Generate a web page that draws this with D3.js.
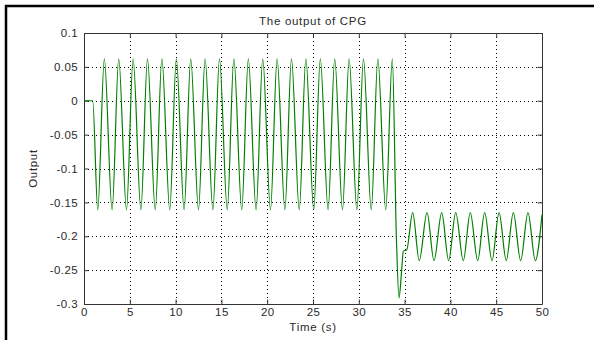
<!DOCTYPE html>
<html>
<head>
<meta charset="utf-8">
<script src="https://cdn.jsdelivr.net/npm/d3@7"></script>
<style>
    body { margin: 0; background: #ffffff; }
    svg text { font-family: 'Liberation Sans', Arial, sans-serif; fill: #2a2a2a; font-weight: normal; }
</style>
</head>
<body>
<div id="chart"></div>
<script>
// CPG output: [time (s), output]
const onsetPoints = [[0, 0], [0.95, 0]]
const gaitTroughs = [
    [1.50, -0.161], [3.07, -0.161], [4.64, -0.161], [6.21, -0.161], [7.78, -0.161],
    [9.36, -0.161], [10.93, -0.161], [12.50, -0.161], [14.07, -0.161], [15.64, -0.161],
    [17.22, -0.161], [18.79, -0.161], [20.36, -0.161], [21.93, -0.161], [23.50, -0.161],
    [25.08, -0.161], [26.65, -0.161], [28.22, -0.161], [29.79, -0.161], [31.36, -0.161],
    [32.94, -0.161],
]
const gaitPeaks = [
    [2.22, 0.062], [3.79, 0.062], [5.36, 0.062], [6.93, 0.062], [8.50, 0.062],
    [10.08, 0.062], [11.65, 0.062], [13.22, 0.062], [14.79, 0.062], [16.36, 0.062],
    [17.94, 0.062], [19.51, 0.062], [21.08, 0.062], [22.65, 0.062], [24.22, 0.062],
    [25.80, 0.062], [27.37, 0.062], [28.94, 0.062], [30.51, 0.062], [32.08, 0.062],
    [33.66, 0.062],
]
const transitionPoints = [
    [34.10, -0.20], [34.39, -0.291], [34.68, -0.25], [34.86, -0.222], [35.23, -0.220],
]
const newGaitPeaks = [
    [35.88, -0.165], [37.45, -0.165], [39.05, -0.165], [40.58, -0.165], [42.17, -0.165],
    [43.74, -0.165], [45.31, -0.165], [46.87, -0.165], [48.47, -0.165],
]
const newGaitTroughs = [
    [36.60, -0.236], [38.21, -0.236], [39.81, -0.236], [41.41, -0.236], [42.98, -0.236],
    [44.54, -0.236], [46.10, -0.236], [47.67, -0.236], [49.27, -0.236], [50, -0.168],
]

const xTicks = [0, 5, 10, 15, 20, 25, 30, 35, 40, 45, 50]
const yTicks = [-0.3, -0.25, -0.2, -0.15, -0.1, -0.05, 0, 0.05, 0.1]

const titleText = 'The output of CPG'
const xLabelText = 'Time (s)'
const yLabelText = 'Output'

class CpgPlot {
    constructor(elementSelector) {
        this.elementSelector = elementSelector
        this.width = 594
        this.height = 340

        this.MARGIN = {
            TOP: 33,
            RIGHT: 52,
            BOTTOM: 36,
            LEFT: 84,
        }
        this.TICK_LENGTH = 4.5

        this.points = [
            ...onsetPoints, ...gaitTroughs, ...gaitPeaks,
            ...transitionPoints, ...newGaitPeaks, ...newGaitTroughs,
        ].sort((a, b) => a[0] - b[0])
    }

    init() {
        this.initContainer()
        this.initScales()
        this.initGrid()
        this.initAxes()
        this.initLine()
        this.initLabels()
    }

    initContainer() {
        this.svg = d3.select(this.elementSelector)
            .append('svg')
            .attr('width', this.width)
            .attr('height', this.height)

        // figure frame: only top and left edges show in the capture
        this.svg.append('path')
            .attr('d', `M6,${this.height} V6 H${this.width}`)
            .attr('fill', 'none')
            .attr('stroke', '#000000')
            .attr('stroke-width', 2.5)
    }

    initScales() {
        this.x = d3.scaleLinear()
            .domain([0, 50])
            .range([this.MARGIN.LEFT, this.width - this.MARGIN.RIGHT])

        this.y = d3.scaleLinear()
            .domain([-0.3, 0.1])
            .range([this.height - this.MARGIN.BOTTOM, this.MARGIN.TOP])
    }

    initGrid() {
        const [x0, x1] = this.x.range()
        const [y0, y1] = this.y.range()
        const grid = this.svg.append('g')
            .attr('stroke', '#000000')
            .attr('stroke-width', 1)
            .attr('stroke-dasharray', '1,3')

        grid.selectAll('line.vgrid')
            .data(xTicks.slice(1, -1))
            .join('line')
            .attr('class', 'vgrid')
            .attr('x1', (d) => Math.round(this.x(d)) + 0.5)
            .attr('x2', (d) => Math.round(this.x(d)) + 0.5)
            .attr('y1', y1)
            .attr('y2', y0)

        grid.selectAll('line.hgrid')
            .data(yTicks.slice(1, -1))
            .join('line')
            .attr('class', 'hgrid')
            .attr('x1', x0)
            .attr('x2', x1)
            .attr('y1', (d) => Math.round(this.y(d)) + 0.5)
            .attr('y2', (d) => Math.round(this.y(d)) + 0.5)
    }

    initAxes() {
        const [x0, x1] = this.x.range()
        const [y0, y1] = this.y.range()
        const fmt = (d) => String(+d.toFixed(2))

        const bottom = this.svg.append('g')
            .attr('transform', `translate(0,${y0})`)
            .call(d3.axisBottom(this.x).tickValues(xTicks).tickFormat(fmt)
                .tickSizeInner(-this.TICK_LENGTH).tickSizeOuter(0).tickPadding(4))

        const left = this.svg.append('g')
            .attr('transform', `translate(${x0},0)`)
            .call(d3.axisLeft(this.y).tickValues(yTicks).tickFormat(fmt)
                .tickSizeInner(-this.TICK_LENGTH).tickSizeOuter(0).tickPadding(6))

        const top = this.svg.append('g')
            .attr('transform', `translate(0,${y1})`)
            .call(d3.axisTop(this.x).tickValues(xTicks).tickFormat('')
                .tickSizeInner(-this.TICK_LENGTH).tickSizeOuter(0))

        const right = this.svg.append('g')
            .attr('transform', `translate(${x1},0)`)
            .call(d3.axisRight(this.y).tickValues(yTicks).tickFormat('')
                .tickSizeInner(-this.TICK_LENGTH).tickSizeOuter(0))

        for (const axis of [bottom, left, top, right]) {
            axis.selectAll('path, line').attr('stroke', '#333333')
            axis.selectAll('text')
                .attr('fill', '#2a2a2a')
                .style('font-size', '11.5px')
                .style('letter-spacing', '0.4px')
            axis.attr('font-family', null).attr('font-size', null)
        }
    }

    initLine() {
        const line = d3.line()
            .x((d) => this.x(d[0]))
            .y((d) => this.y(d[1]))
            .curve(d3.curveMonotoneX)

        this.svg.append('path')
            .datum(this.points)
            .attr('d', line)
            .attr('fill', 'none')
            .attr('stroke', '#008000')
            .attr('stroke-width', 1.2)
            .attr('stroke-linejoin', 'round')
    }

    initLabels() {
        const [x0, x1] = this.x.range()
        const [y0, y1] = this.y.range()
        const cx = (x0 + x1) / 2

        const label = (text) => this.svg.append('text')
            .text(text)
            .attr('text-anchor', 'middle')
            .style('font-size', '11.5px')
            .style('letter-spacing', '0.7px')

        label(titleText)
            .attr('x', cx)
            .attr('y', 25)

        label(xLabelText)
            .attr('x', cx)
            .attr('y', 331)

        label(yLabelText)
            .attr('transform', `translate(37,${(y0 + y1) / 2}) rotate(-90)`)
    }
}

const plot = new CpgPlot('#chart')
plot.init()
</script>
</body>
</html>
